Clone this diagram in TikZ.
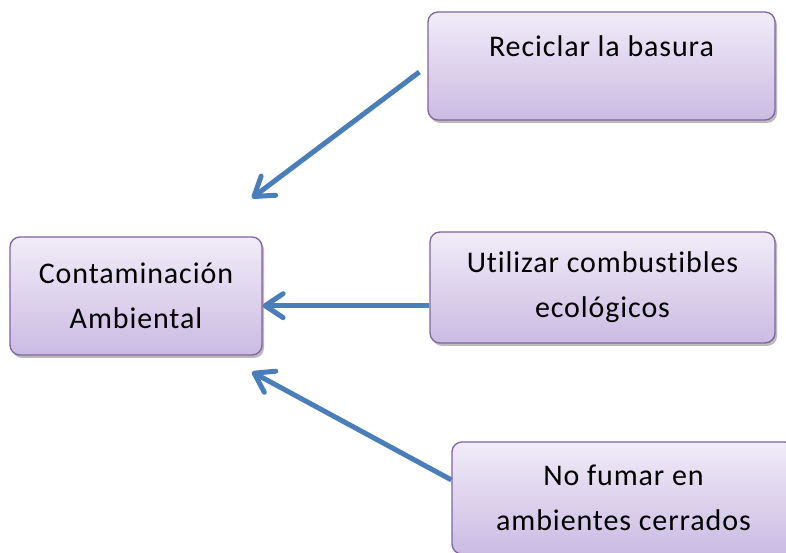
\documentclass[tikz,border=0pt]{standalone}
\usepackage{fontspec}
\usepackage{tikz}
\usetikzlibrary{arrows.meta, shadows}
\newfontfamily\cajafont[LetterSpace=3, Ligatures=NoCommon]{Carlito}
\definecolor{borde}{RGB}{128,100,162}
\definecolor{arriba}{RGB}{241,236,248}
\definecolor{abajo}{RGB}{203,187,227}
\definecolor{flecha}{RGB}{74,126,187}

\begin{document}
\begin{tikzpicture}[x=1bp, y=1bp]
        \tikzstyle{every node} = [font=\cajafont\fontsize{30bp}{45bp}\selectfont]
        \tikzstyle{caja} = [draw=borde, line width=1.3bp, rounded corners=10bp, top color=arriba, bottom color=abajo, align=center, inner sep=0pt, drop shadow={shadow xshift=2bp, shadow yshift=-3bp, fill=black!45, opacity=0.6}]
        \tikzstyle{flechita} = [draw=flecha, line width=5bp, -{Straight Barb[length=18bp, width=24bp, round]}]

        \clip (0,0) rectangle (786,553);

        \node[caja, minimum width=252bp, minimum height=118bp] (ambiental) at (136,257) {Contaminación\\Ambiental};
        \node[caja, minimum width=347bp, minimum height=108bp, text height=22bp, text depth=40bp] (reciclar) at (601.5,487) {Reciclar la basura};
        \node[caja, minimum width=345bp, minimum height=111bp] (utilizar) at (602.5,265.5) {Utilizar combustibles\\ecológicos};
        \node[caja, minimum width=343bp, minimum height=112bp] (fumar) at (623.5,55) {No fumar en\\ambientes cerrados};

        \coordinate (arribafin) at (252,355);
        \coordinate (abajofin) at (252,181);

        \draw[flechita, shorten <=10bp] (reciclar.west) -- (arribafin);
        \draw[flechita] (utilizar.186) -- (utilizar.186 -| ambiental.east);
        \draw[flechita] (fumar.174) -- (abajofin);
    \end{tikzpicture}
\end{document}
